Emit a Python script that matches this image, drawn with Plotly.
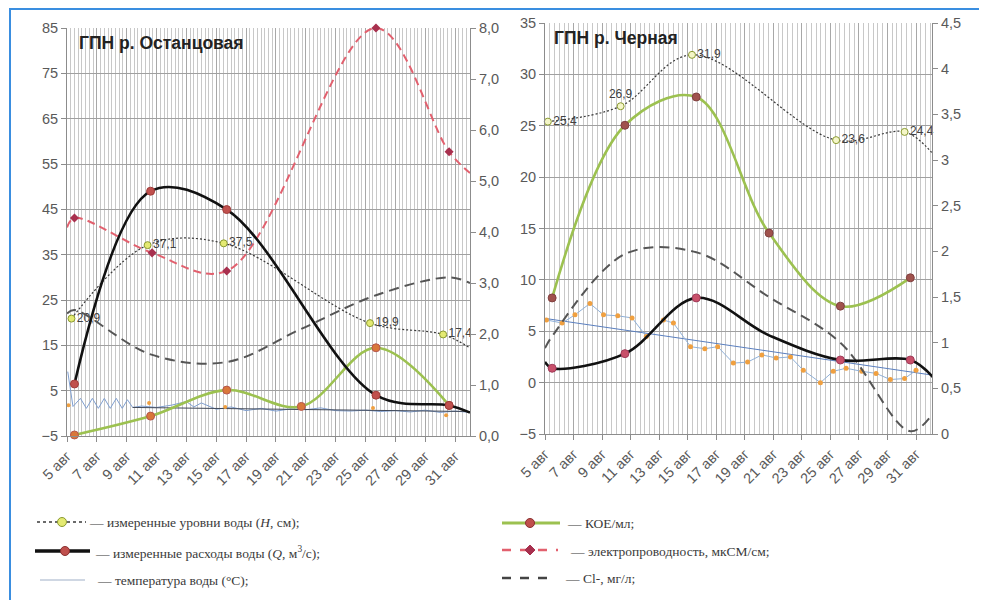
import plotly.graph_objects as go

# the page body has an 8px margin, so the figure is 8px smaller than the window
OFF = 8
W, H = 987 - OFF, 600 - OFF

# ---------------- tick labels ----------------
tick_vals = [5, 7, 9, 11, 13, 15, 17, 19, 21, 23, 25, 27, 29, 31]
tick_text = ["5 авг", "7 авг", "9 авг", "11 авг", "13 авг", "15 авг", "17 авг",
             "19 авг", "21 авг", "23 авг", "25 авг", "27 авг", "29 авг", "31 авг"]

# ---------------- ГПН р. Останцовая (left) ----------------
# water level H, cm (left axis); last value = end of the curve (no marker)
ost_h_x = [5.3, 10.4, 15.5, 25.3, 30.2, 32.0]
ost_h = [20.9, 37.1, 37.5, 19.9, 17.4, 14.4]
ost_h_lbl = ["20,9", "37,1", "37,5", "19,9", "17,4"]
# discharge Q (right axis)
ost_q_x = [5.5, 10.6, 15.7, 25.7, 30.6, 32.0]
ost_q = [1.02, 4.80, 4.44, 0.80, 0.60, 0.46]
# KOE/ml (right axis)
ost_koe_x = [5.5, 10.6, 15.7, 20.7, 25.7, 30.6]
ost_koe = [0.02, 0.39, 0.90, 0.58, 1.73, 0.60]
# conductivity (left axis); first and last values = curve ends (no marker)
ost_ec_x = [5.0, 5.5, 10.7, 15.7, 25.7, 30.6, 32.0]
ost_ec = [41.0, 43.1, 35.4, 31.4, 85.0, 57.7, 53.0]
# Cl- (right axis)
ost_cl_x = [5.0, 5.5, 10.6, 15.7, 20.7, 25.7, 30.6, 32.0]
ost_cl = [2.40, 2.47, 1.60, 1.45, 2.10, 2.76, 3.11, 3.00]
# water temperature (left axis)
ost_t_x = [5.05, 5.4, 5.9, 6.3, 6.7, 7.1, 7.5, 7.9, 8.3, 8.7, 9.05, 9.4, 10.0, 11.0,
           12.0, 13.0, 13.5, 14.0, 15.0, 16.0, 17.0, 18.0, 19.0, 20.0, 21.0, 22.0,
           23.0, 24.0, 25.0, 26.0, 27.0, 28.0, 29.0, 30.0, 31.0, 32.0]
ost_t = [9.2, 1.5, 3.3, 1.1, 3.3, 1.1, 3.3, 1.1, 3.3, 1.1, 3.0, 1.3, 1.6, 1.3,
         1.8, 2.6, 1.4, 2.3, 0.9, 1.4, 0.6, 1.1, 0.5, 1.0, 0.8, 1.2,
         0.6, 0.5, 0.7, 0.4, 0.6, 0.3, 0.7, 0.2, 0.5, 0.2]
ost_trend_x = [9.4, 32.0]
ost_trend = [1.3, 0.4]
ost_ts_x = [5.1, 10.5, 15.6, 25.5, 30.4]
ost_ts = [1.8, 2.3, 1.4, 1.2, -0.4]

# ---------------- ГПН р. Черная (right) ----------------
chr_h_x = [5.2, 10.3, 15.3, 25.4, 30.2, 32.1]
chr_h = [25.4, 26.9, 31.9, 23.6, 24.4, 22.4]
chr_h_lbl = ["25,4", "26,9", "31,9", "23,6", "24,4"]
chr_q_x = [5.0, 5.5, 10.6, 15.6, 20.7, 25.7, 30.6, 32.2]
chr_q = [0.79, 0.72, 0.88, 1.49, 1.08, 0.81, 0.81, 0.62]
chr_koe_x = [5.5, 10.6, 15.6, 20.7, 25.7, 30.6]
chr_koe = [1.49, 3.38, 3.69, 2.20, 1.40, 1.71]
chr_cl_x = [5.0, 5.5, 10.6, 15.6, 20.7, 25.7, 30.6, 32.2]
chr_cl = [0.94, 1.07, 1.97, 1.99, 1.50, 1.00, 0.03, 0.23]
chr_t_x = [5.1, 6.2, 7.1, 8.15, 9.1, 10.1, 11.1, 12.1, 13.3, 14.0, 15.2, 16.2, 17.1,
           18.2, 19.2, 20.2, 21.2, 22.2, 23.1, 24.3, 25.2, 26.1, 27.2, 28.2, 29.2,
           30.2, 31.0]
chr_t = [6.1, 5.8, 6.6, 7.7, 6.6, 6.5, 6.3, 4.5, 6.1, 5.8, 3.5, 3.3, 3.5,
         1.9, 2.0, 2.7, 2.4, 2.5, 1.2, 0.0, 1.1, 1.4, 1.1, 0.9, 0.3,
         0.4, 1.2]
chr_trend_x = [5.0, 32.1]
chr_trend = [6.25, 0.74]

# ---------------- colours ----------------
C_H = "#3a3a3a"
C_HM = "#e4ea72"
C_HMB = "#8a9a30"
C_Q = "#111111"
C_QM = "#c0504d"
C_KOE = "#9cc150"
C_KOEM = "#b5564e"
C_EC = "#e2606e"
C_ECM = "#a8304e"
C_CL = "#555555"
C_T = "#7f9fd0"
C_TM = "#f0a040"

LBL_FONT = dict(family="Liberation Sans", size=12, color="#404040")

fig = go.Figure()


def add(x, y, xa, ya, **kw):
    fig.add_trace(go.Scatter(x=x, y=y, xaxis=xa, yaxis=ya, showlegend=False,
                             hoverinfo="skip", cliponaxis=False, **kw))


# ----- left panel -----
add(ost_t_x, ost_t, "x", "y", mode="lines", line=dict(color=C_T, width=1))
add(ost_trend_x, ost_trend, "x", "y", mode="lines", line=dict(color="#404858", width=1))
add(ost_ts_x, ost_ts, "x", "y", mode="markers",
    marker=dict(size=4, color=C_TM, line=dict(width=0)))
add(ost_ec_x, ost_ec, "x", "y", mode="lines",
    line=dict(color=C_EC, width=2, dash="8px,5px", shape="spline"))
add(ost_ec_x[1:-1], ost_ec[1:-1], "x", "y", mode="markers",
    marker=dict(symbol="diamond", size=7, color=C_ECM))
add(ost_h_x, ost_h, "x", "y", mode="lines",
    line=dict(color=C_H, width=1.2, dash="2px,2px", shape="spline"))
add(ost_h_x[:-1], ost_h[:-1], "x", "y", mode="markers+text",
    marker=dict(symbol="circle", size=7, color=C_HM, line=dict(color=C_HMB, width=1)),
    text=ost_h_lbl, textposition="middle right", textfont=LBL_FONT)
add(ost_cl_x, ost_cl, "x", "y2", mode="lines",
    line=dict(color=C_CL, width=2, dash="10px,6px", shape="spline"))
add(ost_koe_x, ost_koe, "x", "y2", mode="lines+markers",
    line=dict(color=C_KOE, width=2.6, shape="spline"),
    marker=dict(size=8, color="#d9773a", line=dict(color=C_KOEM, width=1)))
add(ost_q_x, ost_q, "x", "y2", mode="lines",
    line=dict(color=C_Q, width=2.6, shape="spline"))
add(ost_q_x[:-1], ost_q[:-1], "x", "y2", mode="markers",
    marker=dict(size=8, color=C_QM, line=dict(color="#a03c3a", width=1)))

# ----- right panel -----
add(chr_trend_x, chr_trend, "x2", "y3", mode="lines", line=dict(color="#5a7fbf", width=1))
add(chr_t_x, chr_t, "x2", "y3", mode="lines+markers",
    line=dict(color="#8fb0d8", width=1),
    marker=dict(size=5, color=C_TM, line=dict(width=0)))
add(chr_h_x, chr_h, "x2", "y3", mode="lines",
    line=dict(color=C_H, width=1.2, dash="2px,2px", shape="spline"))
add(chr_h_x[:-1], chr_h[:-1], "x2", "y3", mode="markers+text",
    marker=dict(symbol="circle", size=7, color="#f4f6c8", line=dict(color=C_HMB, width=1)),
    text=chr_h_lbl,
    textposition=["middle right", "top center", "middle right", "middle right", "middle right"],
    textfont=LBL_FONT)
add(chr_cl_x, chr_cl, "x2", "y4", mode="lines",
    line=dict(color=C_CL, width=2, dash="10px,6px", shape="spline"))
add(chr_koe_x, chr_koe, "x2", "y4", mode="lines+markers",
    line=dict(color=C_KOE, width=2.6, shape="spline"),
    marker=dict(size=8, color="#a0524d", line=dict(color="#804040", width=1)))
add(chr_q_x, chr_q, "x2", "y4", mode="lines",
    line=dict(color=C_Q, width=2.6, shape="spline"))
q_mark = [1, 2, 3, 5, 6]
add([chr_q_x[i] for i in q_mark], [chr_q[i] for i in q_mark], "x2", "y4", mode="markers",
    marker=dict(size=8, color="#c8506a", line=dict(color="#a03c5a", width=1)))

# ---------------- axes ----------------
TF = dict(family="Liberation Sans", size=14.5, color="#595959")
GRID = "#a0a0a0"
AX = "#8c8c8c"


def px2x(p):
    return (p - OFF) / W


def px2y(p):
    return 1 - (p - OFF) / H


def xax(domain, rng, anchor, minor_dt):
    return dict(domain=domain, range=rng, anchor=anchor, tickmode="array",
                tickvals=tick_vals, ticktext=tick_text, tickangle=-45, tickfont=TF,
                showgrid=True, gridcolor="#a8a8a8", gridwidth=1,
                minor=dict(tickmode="linear", tick0=5, dtick=minor_dt, showgrid=True,
                           gridcolor="#c8c8c8", gridwidth=1, ticks=""),
                showline=True, linecolor=AX, linewidth=1,
                ticks="outside", ticklen=5, tickcolor=AX, zeroline=False,
                automargin=False, fixedrange=True)


def yax(**kw):
    d = dict(tickfont=TF, zeroline=False, showline=True, linecolor=AX, ticks="outside",
             ticklen=5, tickcolor=AX, automargin=False, fixedrange=True)
    d.update(kw)
    return d


fig.update_layout(
    width=W, height=H,
    margin=dict(l=0, r=0, t=0, b=0, autoexpand=False),
    paper_bgcolor="white", plot_bgcolor="white",
    separators=", ",
    showlegend=False,
    xaxis=xax([px2x(67), px2x(470)], [5, 32.0], "y", 0.25),
    yaxis=yax(domain=[px2y(436), px2y(28)], range=[-5, 85], tick0=-5, dtick=10,
              showgrid=True, gridcolor=GRID, anchor="x"),
    yaxis2=yax(overlaying="y", side="right", anchor="x", range=[0, 8], dtick=1,
               tickformat=".1f", showgrid=False),
    xaxis2=xax([px2x(545), px2x(932)], [5, 32.12], "y3", 1 / 3),
    yaxis3=yax(domain=[px2y(434), px2y(23)], range=[-5, 35], tick0=-5, dtick=5,
               showgrid=True, gridcolor=GRID, anchor="x2"),
    yaxis4=yax(overlaying="y3", side="right", anchor="x2", range=[0, 4.5], dtick=0.5,
               showgrid=False),
)

shapes = []
annotations = []

# outer blue frame
shapes.append(dict(type="rect", xref="paper", yref="paper",
                   x0=px2x(10), x1=px2x(995), y0=px2y(9), y1=px2y(610),
                   line=dict(color="#3a8ee0", width=2), fillcolor="rgba(0,0,0,0)"))

# panel titles
annotations.append(dict(xref="paper", yref="paper", x=px2x(77), y=px2y(43),
                        xanchor="left", yanchor="middle", showarrow=False,
                        text="<b>ГПН р. Останцовая</b>",
                        font=dict(family="Liberation Sans", size=17.5, color="#222222")))
annotations.append(dict(xref="paper", yref="paper", x=px2x(552), y=px2y(38),
                        xanchor="left", yanchor="middle", showarrow=False,
                        text="<b>ГПН р. Черная</b>",
                        font=dict(family="Liberation Sans", size=17.5, color="#222222")))

# ---------------- manual legend ----------------
LF = dict(family="Liberation Serif", size=13.5, color="#3a3a3a")


def leg_line(x0, x1, y, color, width, dash="solid"):
    shapes.append(dict(type="line", xref="paper", yref="paper",
                       x0=px2x(x0), x1=px2x(x1), y0=px2y(y), y1=px2y(y),
                       line=dict(color=color, width=width, dash=dash)))


def leg_circle(cx, cy, r, fill, border):
    shapes.append(dict(type="circle", xref="paper", yref="paper",
                       x0=px2x(cx - r), x1=px2x(cx + r), y0=px2y(cy + r), y1=px2y(cy - r),
                       fillcolor=fill, line=dict(color=border, width=1)))


def leg_diamond(cx, cy, r, fill):
    path = "M {} {} L {} {} L {} {} L {} {} Z".format(
        px2x(cx), px2y(cy - r), px2x(cx + r), px2y(cy), px2x(cx), px2y(cy + r), px2x(cx - r), px2y(cy))
    shapes.append(dict(type="path", xref="paper", yref="paper", path=path,
                       fillcolor=fill, line=dict(color=fill, width=1)))


def leg_text(x, y, txt):
    annotations.append(dict(xref="paper", yref="paper", x=px2x(x), y=px2y(y),
                            xanchor="left", yanchor="middle", showarrow=False,
                            text=txt, font=LF))


# row 1
leg_line(37, 86, 522, C_H, 1.6, "dot")
leg_circle(62, 522, 4.5, C_HM, C_HMB)
leg_text(87, 522, "— измеренные уровни воды (<i>H</i>, см);")
leg_line(502, 560, 523, C_KOE, 3)
leg_circle(530, 523, 4.5, "#c0504d", "#8a3030")
leg_text(565, 523, "— КОЕ/мл;")
# row 2
leg_line(35, 90, 551, C_Q, 3.5)
leg_circle(65, 551, 4.5, C_QM, "#8a3030")
leg_text(93, 552, "— измеренные расходы воды (<i>Q</i>, м<sup>3</sup>/с);")
leg_line(502, 558, 550, C_EC, 2.5, "dash")
leg_diamond(530, 550, 5, C_ECM)
leg_text(568, 551, "— электропроводность, мкСМ/см;")
# row 3
leg_line(40, 85, 580, "#9fb0c8", 1.2)
leg_text(95, 580, "— температура воды (°C);")
leg_line(502, 556, 578, "#444444", 2.5, "dash")
leg_text(563, 578, "— Cl-, мг/л;")

fig.update_layout(shapes=shapes, annotations=annotations)

fig.write_html("out.html")
